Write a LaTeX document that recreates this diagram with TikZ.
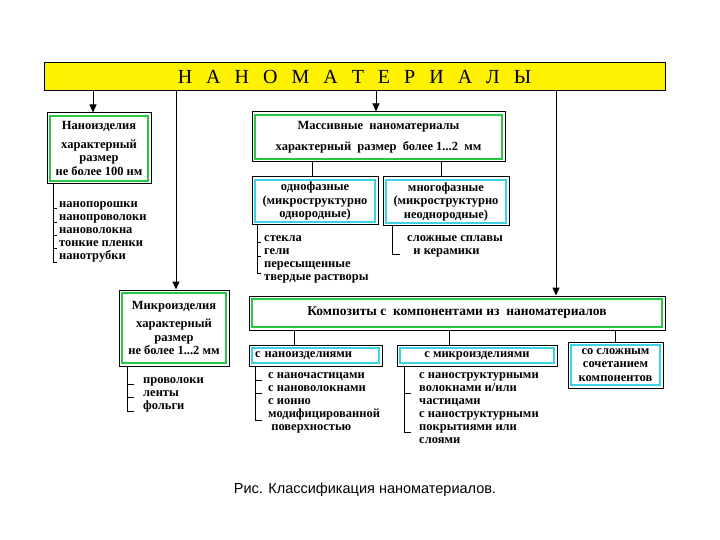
\documentclass[tikz,border=0pt]{standalone}
\usepackage{fontspec}
\setmainfont{Liberation Serif}
\newfontfamily\capfont{Liberation Sans}
\usetikzlibrary{arrows.meta}
\newcommand\innerframe[2]{\draw[#2,line width=1.5pt] ([shift={(3.5,3.5)}]#1.north west) rectangle ([shift={(-3.5,-3.5)}]#1.south east);}
\begin{document}
\begin{tikzpicture}[x=1pt,y=-1pt,
  box/.style={draw=black,line width=1pt,fill=white,inner sep=0pt,align=center,font=\fontsize{12.5}{13.5}\selectfont\bfseries},
  lst/.style={anchor=north west,inner sep=0pt,align=left,font=\fontsize{12.5}{13}\selectfont\bfseries},
  arr/.style={-{Triangle[length=8pt,width=7pt]},line width=1pt},
  ln/.style={line width=0.8pt}]
\useasboundingbox (0,0) rectangle (720,540);
\definecolor{gfr}{RGB}{40,200,70}
\definecolor{cfr}{RGB}{60,210,230}
% title
\node[draw=black,line width=1pt,fill=yellow,minimum width=621pt,minimum height=28pt,inner sep=0pt,font=\fontsize{20}{20}\selectfont] (top) at (354.5,77) {Н\hspace{14pt}А\hspace{14pt}Н\hspace{14pt}О\hspace{14pt}М\hspace{14pt}А\hspace{14pt}Т\hspace{14pt}Е\hspace{14pt}Р\hspace{14pt}И\hspace{14pt}А\hspace{14pt}Л\hspace{14pt}Ы};
\coordinate (t1) at (93,91); \coordinate (t2) at (176,91); \coordinate (t3) at (376,91); \coordinate (t4) at (556,91);
% level boxes
\node[box,minimum width=104pt,minimum height=71pt] (nano) at (99,148.5) {Наноизделия\\[5pt]характерный\\размер\\не более 100 нм};
\innerframe{nano}{gfr}
\node[box,minimum width=253pt,minimum height=50pt] (mass) at (378.5,137) {Массивные\ \ наноматериалы\\[7pt]характерный\ \ размер\ \ более 1...2\ \ мм};
\innerframe{mass}{gfr}
\node[box,minimum width=110pt,minimum height=76pt] (micro) at (174,328) {Микроизделия\\[5pt]характерный\\размер\\не более 1...2 мм};
\innerframe{micro}{gfr}
\node[box,minimum width=416pt,minimum height=34pt] (comp) at (457,313) {\fontsize{13.5}{13.5}\selectfont Композиты с\ \ компонентами из\ \ наноматериалов};
\innerframe{comp}{gfr}
\draw[arr] (t1) -- (t1|-nano.north);
\draw[arr] (t2) -- (t2|-micro.north);
\draw[arr] (t3) -- (t3|-mass.north);
\draw[arr] (t4) -- (t4|-comp.north);
% sub boxes
\node[box,minimum width=126pt,minimum height=48pt] (one) at (315,201) {однофазные\\(микроструктурно\\однородные)};
\innerframe{one}{cfr}
\node[box,minimum width=126pt,minimum height=49pt] (multi) at (446,201.5) {многофазные\\(микроструктурно\\неоднородные)};
\innerframe{multi}{cfr}
\draw[ln] (312,162) -- (312,177); \draw[ln] (441,162) -- (441,177);
\node[box,minimum width=133pt,minimum height=21pt,align=left,text width=121pt] (cn) at (315.5,355.5) {с наноизделиями};
\innerframe{cn}{cfr}
\node[box,minimum width=160pt,minimum height=21pt] (cm) at (477,355.5) {с микроизделиями};
\innerframe{cm}{cfr}
\node[box,minimum width=95pt,minimum height=46pt] (cs) at (615.5,365) {со сложным\\сочетанием\\компонентов};
\innerframe{cs}{cfr}
\draw[ln] (294,330) -- (294,345); \draw[ln] (449,330) -- (449,345); \draw[ln] (615,330) -- (615,342);
% lists
\coordinate (l1) at (53,184);
\draw[ln] (l1) -- (53,262) -- (57,262);
\foreach \y in {208,222,235,248} \draw[ln] (53,\y) -- (57,\y);
\node[lst] (nl) at (59,201) {нанопорошки\\нанопроволоки\\нановолокна\\тонкие пленки\\нанотрубки};
\coordinate (l2) at (257,225);
\draw[ln] (l2) -- (257,273) -- (261,273);
\foreach \y in {242,256} \draw[ln] (257,\y) -- (261,\y);
\node[lst] (ol) at (264,235) {стекла\\гели\\пересыщенные\\твердые растворы};
\coordinate (l3) at (392,226);
\draw[ln] (l3) -- (392,254) -- (400,254);
\node[lst] (ml) at (407,235) {сложные сплавы\\\ \ и керамики};
\coordinate (l4) at (127,366);
\draw[ln] (l4) -- (127,411) -- (134,411);
\foreach \y in {384,397} \draw[ln] (127,\y) -- (134,\y);
\node[lst] (mil) at (143,377) {проволоки\\ленты\\фольги};
\coordinate (l5) at (255,366);
\draw[ln] (l5) -- (255,420) -- (262,420);
\foreach \y in {380,393} \draw[ln] (255,\y) -- (262,\y);
\node[lst] (cnl) at (268,372) {с наночастицами\\с нановолокнами\\с ионно\\модифицированной\\\ поверхностью};
\coordinate (l6) at (404,366);
\draw[ln] (l6) -- (404,432) -- (411,432);
\draw[ln] (404,393) -- (411,393);
\node[lst] (cml) at (419,372) {с наноструктурными\\волокнами и/или\\частицами\\с наноструктурными\\покрытиями или\\слоями};
% caption
\node[font=\capfont\fontsize{14.5}{14.5}\selectfont] (cap) at (365,490) {Рис. Классификация наноматериалов.};
\end{tikzpicture}
\end{document}
